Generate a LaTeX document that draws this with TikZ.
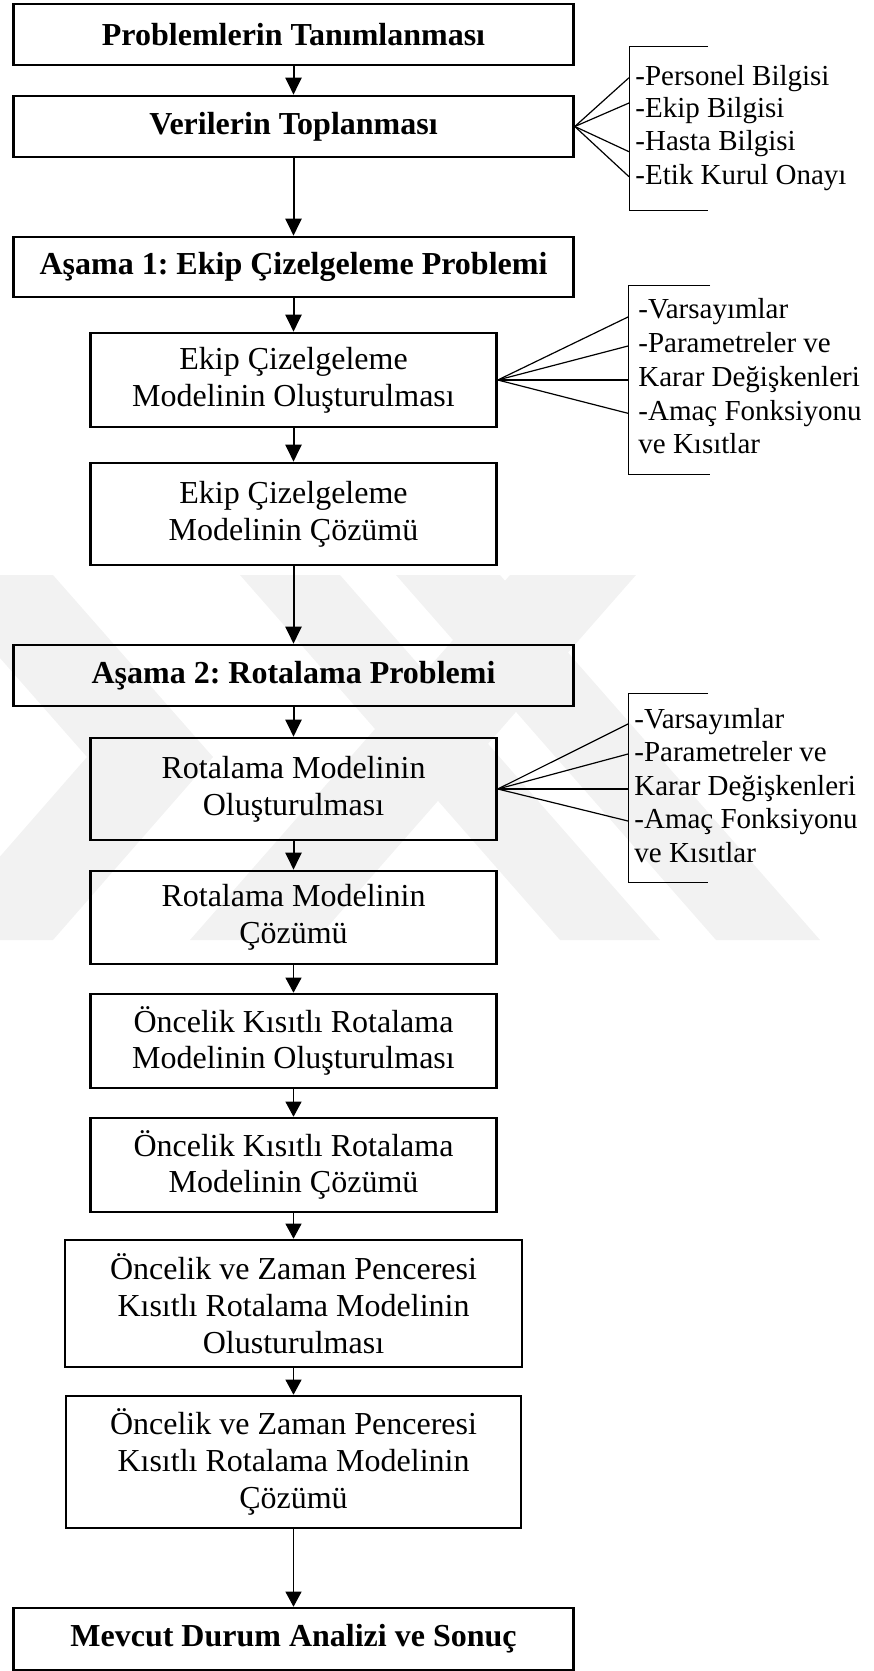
\documentclass[tikz,border=0pt]{standalone}
\usepackage{fontspec}
\setmainfont{Liberation Serif}
\usetikzlibrary{arrows.meta}
\frenchspacing
\begin{document}
\begin{tikzpicture}[x=0.5pt,y=-0.5pt,
  box/.style={draw, line width=1.3pt, align=center, inner sep=0pt, font=\fontsize{16}{18.35}\selectfont},
  bbox/.style={box, font=\fontsize{16}{18.35}\selectfont\bfseries},
  wide/.style={minimum width=280pt},
  mid/.style={minimum width=203pt},
  big/.style={minimum width=228.5pt},
  thickarrow/.style={line width=1pt, -{Triangle[width=8pt,length=8.5pt]}},
  thinarrow/.style={line width=0.5pt, -{Triangle[width=8pt,length=7.5pt]}},
  fan/.style={line width=0.6pt},
  brk/.style={line width=0.5pt},
  item/.style={anchor=base west, inner sep=0pt, font=\fontsize{14.5}{16.5}\selectfont},
  wm/.style={fill=black!5, draw=none}
]
\useasboundingbox (0,0) rectangle (873,1671);
% watermark
\fill[wm] (-73,575) -- (53,575) -- (213,757) -- (53,940) -- (-73,940) -- (87,757) -- cycle;
\fill[wm] (190,940) -- (316,940) -- (636,575) -- (510,575) -- cycle;
\fill[wm] (560,940) -- (660,940) -- (340,575) -- (240,575) -- cycle;
\fill[wm] (716,940) -- (820,940) -- (500,575) -- (396,575) -- cycle;

% main boxes
\node[bbox, wide, minimum height=30.5pt] (b1) at (293.5,34.5) {Problemlerin Tanımlanması};
\node[bbox, wide, minimum height=30.5pt] (b2) at (293.5,126.5) {Verilerin Toplanması};
\node[bbox, wide, minimum height=30pt] (b3) at (293.5,267) {Aşama 1: Ekip Çizelgeleme Problemi};
\node[box, mid, minimum height=47pt] (b4) at (293.5,380) {Ekip Çizelgeleme\\Modelinin Oluşturulması};
\node[box, mid, minimum height=51pt] (b5) at (293.5,514) {Ekip Çizelgeleme\\Modelinin Çözümü};
\node[bbox, wide, minimum height=30.5pt] (b6) at (293.5,675.5) {Aşama 2: Rotalama Problemi};
\node[box, mid, minimum height=51pt] (b7) at (293.5,789) {Rotalama Modelinin\\Oluşturulması};
\node[box, mid, minimum height=46.5pt] (b8) at (293.5,917.5) {Rotalama Modelinin\\Çözümü};
\node[box, mid, minimum height=47pt] (b9) at (293.5,1041) {Öncelik Kısıtlı Rotalama\\Modelinin Oluşturulması};
\node[box, mid, minimum height=47pt] (b10) at (293.5,1165) {Öncelik Kısıtlı Rotalama\\Modelinin Çözümü};
\node[box, big, minimum height=63.5pt] (b11) at (293.5,1303.5) {Öncelik ve Zaman Penceresi\\Kısıtlı Rotalama Modelinin\\Olusturulması};
\node[box, minimum width=227.5pt, minimum height=66pt] (b12) at (293.5,1462) {Öncelik ve Zaman Penceresi\\Kısıtlı Rotalama Modelinin\\Çözümü};
\node[bbox, wide, minimum height=31pt] (b13) at (293.5,1639) {Mevcut Durum Analizi ve Sonuç};

% arrows
\draw[thickarrow] (b1.south) -- (b2.north);
\draw[thickarrow] (b2.south) -- (b3.north);
\draw[thickarrow] (b3.south) -- (b4.north);
\draw[thickarrow] (b4.south) -- (b5.north);
\draw[thickarrow] (b5.south) -- (b6.north);
\draw[thickarrow] (b6.south) -- (b7.north);
\draw[thickarrow] (b7.south) -- (b8.north);
\draw[thinarrow] (b8.south) -- (b9.north);
\draw[thinarrow] (b9.south) -- (b10.north);
\draw[thinarrow] (b10.south) -- (b11.north);
\draw[thinarrow] (b11.south) -- (b12.north);
\draw[thinarrow] (b12.south) -- (b13.north);

% bracket 1
\coordinate (k1a) at (708,46);
\coordinate (k1b) at (629,46);
\coordinate (k1c) at (629,210);
\coordinate (k1d) at (708,210);
\draw[brk] (k1a) -- (k1b) -- (k1c) -- (k1d);
\coordinate (f11) at (629,77.7);
\coordinate (f12) at (629,103);
\coordinate (f13) at (629,151.7);
\coordinate (f14) at (629,176.7);
\foreach \p in {f11,f12,f13,f14} \draw[fan] (b2.east) -- (\p);
\node[item] (t11) at (635,85) {-Personel Bilgisi};
\node[item] (t12) at (635,117) {-Ekip Bilgisi};
\node[item] (t13) at (635,150.7) {-Hasta Bilgisi};
\node[item] (t14) at (635,184) {-Etik Kurul Onayı};

% bracket 2
\coordinate (k2a) at (710,285);
\coordinate (k2b) at (628,285);
\coordinate (k2c) at (628,474);
\coordinate (k2d) at (710,474);
\draw[brk] (k2a) -- (k2b) -- (k2c) -- (k2d);
\coordinate (f21) at (628,317);
\coordinate (f22) at (628,346);
\coordinate (f23) at (628,380);
\coordinate (f24) at (628,413.3);
\foreach \p in {f21,f22,f23,f24} \draw[fan] (b4.east) -- (\p);
\node[item] (t21) at (638,318) {-Varsayımlar};
\node[item] (t22) at (638,352) {-Parametreler ve};
\node[item] (t23) at (638,386) {Karar Değişkenleri};
\node[item] (t24) at (638,420) {-Amaç Fonksiyonu};
\node[item] (t25) at (638,453) {ve Kısıtlar};

% bracket 3
\coordinate (k3a) at (708,693);
\coordinate (k3b) at (628,693);
\coordinate (k3c) at (628,882);
\coordinate (k3d) at (708,882);
\draw[brk] (k3a) -- (k3b) -- (k3c) -- (k3d);
\coordinate (f31) at (628,724);
\coordinate (f32) at (628,754);
\coordinate (f33) at (628,789);
\coordinate (f34) at (628,821);
\foreach \p in {f31,f32,f33,f34} \draw[fan] (b7.east) -- (\p);
\node[item] (t31) at (634,728) {-Varsayımlar};
\node[item] (t32) at (634,761.5) {-Parametreler ve};
\node[item] (t33) at (634,795) {Karar Değişkenleri};
\node[item] (t34) at (634,828) {-Amaç Fonksiyonu};
\node[item] (t35) at (634,862) {ve Kısıtlar};
\end{tikzpicture}
\end{document}
